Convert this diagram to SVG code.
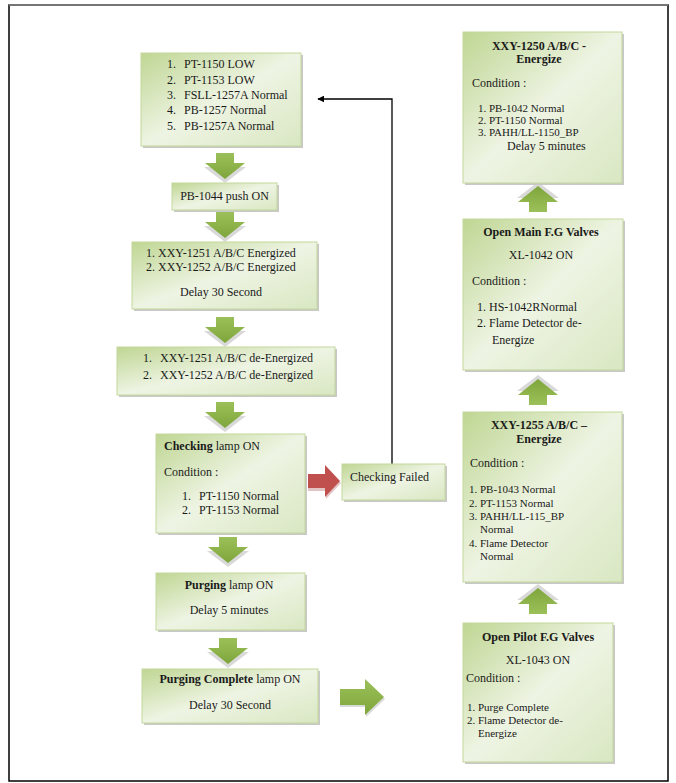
<svg xmlns="http://www.w3.org/2000/svg" width="676" height="783" viewBox="0 0 676 783">
<defs>
<linearGradient id="g" x1="0" y1="0" x2="1" y2="1">
<stop offset="0" stop-color="#bfd693"/>
<stop offset="0.5" stop-color="#eef4e3"/>
<stop offset="1" stop-color="#d9e7c2"/>
</linearGradient>
<linearGradient id="ag" x1="0" y1="0" x2="0" y2="1">
<stop offset="0" stop-color="#9cc059"/>
<stop offset="1" stop-color="#7ea63c"/>
</linearGradient>
<marker id="ah" viewBox="0 0 10 10" refX="9" refY="5" markerWidth="7" markerHeight="7" orient="auto" markerUnits="userSpaceOnUse">
<path d="M0,0 L10,5 L0,10 z" fill="#000"/>
</marker>
<g id="down">
<polygon points="-9,3 9,3 9,14 21,14 0,30 -21,14 -9,14" fill="#d9d9d9"/>
<polygon points="-9,0 9,0 9,10 20,10 0,26 -20,10 -9,10" fill="url(#ag)"/>
</g>
</defs>
<style>
.box{fill:url(#g);stroke:#c4d79b;stroke-width:1}
.sh{fill:#c8c8c8}
text{font-family:"Liberation Serif","Times New Roman",serif;font-size:12px;fill:#1a1a1a}
.s{font-size:11px}
.b{font-weight:bold}
.c{text-anchor:middle}
</style>
<rect x="9" y="5" width="659" height="776" fill="#fff" stroke="#000" stroke-width="1.5"/>
<line x1="9" y1="5" x2="668" y2="5" stroke="#888" stroke-width="1.5"/>

<g id="connectors">
<path d="M392,464 V99 H318" fill="none" stroke="#000" stroke-width="1.3" marker-end="url(#ah)"/>
<use href="#down" x="225" y="153"/>
<use href="#down" x="225" y="212"/>
<use href="#down" x="225" y="317"/>
<use href="#down" x="225" y="402"/>
<use href="#down" x="228" y="537"/>
<use href="#down" x="228" y="638"/>
<use href="#down" transform="translate(538,212) rotate(180)"/>
<use href="#down" transform="translate(538,405) rotate(180)"/>
<use href="#down" transform="translate(538,614) rotate(180)"/>
<g transform="translate(340,697)">
<polygon points="0,-5 26,-5 26,-17 45,2 26,20 26,10 0,10" fill="#d9d9d9"/>
<polygon points="0,-8 25,-8 25,-18 44,0 25,18 25,8 0,8" fill="url(#ag)"/>
</g>
<g transform="translate(308,481)">
<polygon points="0,-4 18,-4 18,-14 33,2 18,18 18,10 0,10" fill="#e3c4c4"/>
<polygon points="0,-7 17,-7 17,-16 32,0 17,16 17,7 0,7" fill="#c0504d"/>
</g>
</g>

<g id="n1">
<rect class="sh" x="143" y="55" width="160" height="93"/>
<rect class="box" x="141" y="53" width="160" height="93"/>
<text x="167" y="68">1.</text><text x="184" y="68">PT-1150 LOW</text>
<text x="167" y="84">2.</text><text x="184" y="84">PT-1153 LOW</text>
<text x="167" y="99">3.</text><text x="184" y="99">FSLL-1257A Normal</text>
<text x="167" y="114">4.</text><text x="184" y="114">PB-1257 Normal</text>
<text x="167" y="130">5.</text><text x="184" y="130">PB-1257A Normal</text>
</g>

<g id="n2">
<rect class="sh" x="174" y="185" width="105" height="27"/>
<rect class="box" x="172" y="183" width="105" height="27"/>
<text class="c" x="224.5" y="200">PB-1044 push ON</text>
</g>

<g id="n3">
<rect class="sh" x="134" y="244" width="185" height="67"/>
<rect class="box" x="132" y="242" width="185" height="67"/>
<text x="146" y="257">1. XXY-1251 A/B/C Energized</text>
<text x="146" y="271">2. XXY-1252 A/B/C Energized</text>
<text class="c" x="221" y="296">Delay 30 Second</text>
</g>

<g id="n4">
<rect class="sh" x="119" y="349" width="218" height="48"/>
<rect class="box" x="117" y="347" width="218" height="48"/>
<text x="143" y="362">1.</text><text x="160" y="362">XXY-1251 A/B/C de-Energized</text>
<text x="143" y="379">2.</text><text x="160" y="379">XXY-1252 A/B/C de-Energized</text>
</g>

<g id="n5">
<rect class="sh" x="158" y="436" width="149" height="99"/>
<rect class="box" x="156" y="434" width="149" height="99"/>
<text x="164" y="450"><tspan class="b">Checking</tspan> lamp ON</text>
<text x="164" y="476">Condition :</text>
<text x="182" y="500">1.</text><text x="199" y="500">PT-1150 Normal</text>
<text x="182" y="514">2.</text><text x="199" y="514">PT-1153 Normal</text>
</g>

<g id="n6">
<rect class="sh" x="344" y="466" width="103" height="36"/>
<rect class="box" x="342" y="464" width="103" height="36"/>
<text x="350" y="481">Checking Failed</text>
</g>

<g id="n7">
<rect class="sh" x="158" y="575" width="149" height="57"/>
<rect class="box" x="156" y="573" width="149" height="57"/>
<text class="c" x="229" y="589"><tspan class="b">Purging</tspan> lamp ON</text>
<text class="c" x="229" y="614">Delay 5 minutes</text>
</g>

<g id="n8">
<rect class="sh" x="144" y="671" width="176" height="54"/>
<rect class="box" x="142" y="669" width="176" height="54"/>
<text class="c" x="230" y="683"><tspan class="b">Purging Complete</tspan> lamp ON</text>
<text class="c" x="230" y="709">Delay 30 Second</text>
</g>

<g id="r1">
<rect class="sh" x="465" y="34" width="159" height="151"/>
<rect class="box" x="463" y="32" width="159" height="151"/>
<text class="c b" x="539" y="50">XXY-1250 A/B/C -</text>
<text class="c b" x="539" y="63">Energize</text>
<text x="472" y="87">Condition :</text>
<text class="s" x="478" y="112">1. PB-1042 Normal</text>
<text class="s" x="478" y="124">2. PT-1150 Normal</text>
<text class="s" x="478" y="136">3. PAHH/LL-1150_BP</text>
<text x="507" y="150">Delay 5 minutes</text>
</g>

<g id="r2">
<rect class="sh" x="465" y="221" width="160" height="151"/>
<rect class="box" x="463" y="219" width="160" height="151"/>
<text class="c b" x="541" y="236">Open Main F.G Valves</text>
<text class="c" x="541" y="259">XL-1042 ON</text>
<text x="472" y="285">Condition :</text>
<text x="477" y="311">1. HS-1042RNormal</text>
<text x="477" y="327">2. Flame Detector de-</text>
<text x="492" y="344">Energize</text>
</g>

<g id="r3">
<rect class="sh" x="465" y="414" width="159" height="170"/>
<rect class="box" x="463" y="412" width="159" height="170"/>
<text class="c b" x="539" y="429">XXY-1255 A/B/C –</text>
<text class="c b" x="539" y="443">Energize</text>
<text x="470" y="467">Condition :</text>
<text class="s" x="469" y="493">1. PB-1043 Normal</text>
<text class="s" x="469" y="507">2. PT-1153 Normal</text>
<text class="s" x="469" y="520">3. PAHH/LL-115_BP</text>
<text class="s" x="480" y="533">Normal</text>
<text class="s" x="469" y="547">4. Flame Detector</text>
<text class="s" x="480" y="560">Normal</text>
</g>

<g id="r4">
<rect class="sh" x="465" y="625" width="150" height="139"/>
<rect class="box" x="463" y="623" width="150" height="139"/>
<text class="c b" x="538" y="641">Open Pilot F.G Valves</text>
<text class="c" x="538" y="664">XL-1043 ON</text>
<text x="466" y="682">Condition :</text>
<text class="s" x="467" y="711">1. Purge Complete</text>
<text class="s" x="467" y="724">2. Flame Detector de-</text>
<text class="s" x="478" y="737">Energize</text>
</g>
</svg>
